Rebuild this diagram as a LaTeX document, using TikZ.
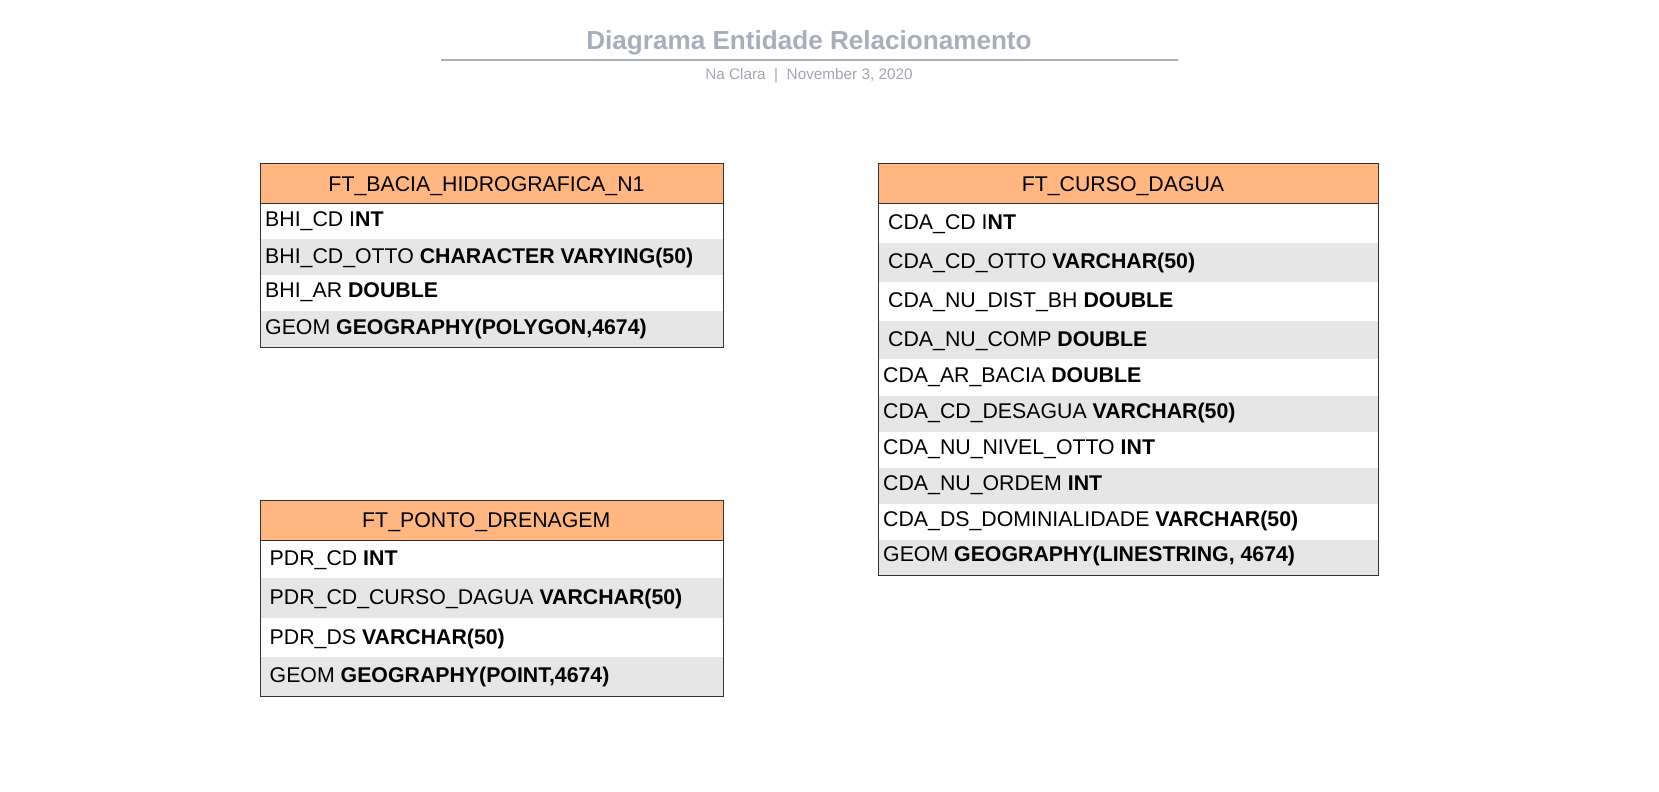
\documentclass[tikz,border=0pt]{standalone}
\usepackage{fontspec}
\setmainfont{Liberation Sans}
\definecolor{hdr}{HTML}{FFB680}
\definecolor{rowgray}{HTML}{E6E6E6}
\definecolor{titlegray}{HTML}{A9AEB8}
\definecolor{dategray}{HTML}{A3A7AF}
\definecolor{bordercol}{HTML}{333333}
\begin{document}
\begin{tikzpicture}[x=1pt,y=-1pt,
  field/.style={anchor=base west,inner sep=0pt,font=\fontsize{21.3}{25}\selectfont,text=black},
  tabhead/.style={anchor=base,inner sep=0pt,font=\fontsize{21.3}{25}\selectfont,text=black},
  tabframe/.style={draw=bordercol,line width=1pt},
  grayrow/.style={fill=rowgray},
  headfill/.style={fill=hdr}]
\useasboundingbox[fill=white] (0,0) rectangle (1659,792);

% title block
\node[anchor=base,inner sep=0pt,text=titlegray,font=\bfseries\fontsize{26.1}{30}\selectfont] (title) at (809,49.3) {Diagrama Entidade Relacionamento};
\coordinate (ruleL) at (441,60);
\coordinate (ruleR) at (1178,60);
\draw[titlegray,line width=2pt] (ruleL) -- (ruleR);
\node[anchor=base,inner sep=0pt,text=dategray,font=\fontsize{15.3}{18}\selectfont] (date) at (809,80) {Na Clara~~|~~November 3, 2020};

% ---------- Table 1 ----------
\fill[headfill] (260.7,163.3) rectangle (723.3,203.3);
\fill[grayrow] (260.7,239.3) rectangle (723.3,275.3);
\fill[grayrow] (260.7,311.3) rectangle (723.3,347.3);
\draw[tabframe] (260.7,163.3) rectangle (723.3,347.3);
\draw[tabframe] (260.7,203.3) -- (723.3,203.3);
\node[tabhead] (t1h) at (486.5,191) {FT\_BACIA\_HIDROGRAFICA\_N1};
\node[field] (t1r1) at (265,226) {BHI\_CD I\textbf{NT}};
\node[field] (t1r2) at (265,263.3) {BHI\_CD\_OTTO \textbf{CHARACTER VARYING(50)}};
\node[field] (t1r3) at (265,297.7) {BHI\_AR \textbf{DOUBLE}};
\node[field] (t1r4) at (265,334.3) {GEOM \textbf{GEOGRAPHY(POLYGON,4674)}};

% ---------- Table 2 ----------
\fill[headfill] (878.3,163.3) rectangle (1378.3,203.3);
\fill[grayrow] (878.3,242.7) rectangle (1378.3,281.7);
\fill[grayrow] (878.3,320.7) rectangle (1378.3,359.3);
\fill[grayrow] (878.3,395.7) rectangle (1378.3,431.7);
\fill[grayrow] (878.3,467.7) rectangle (1378.3,503.7);
\fill[grayrow] (878.3,540) rectangle (1378.3,575);
\draw[tabframe] (878.3,163.3) rectangle (1378.3,575);
\draw[tabframe] (878.3,203.3) -- (1378.3,203.3);
\node[tabhead] (t2h) at (1123,191) {FT\_CURSO\_DAGUA};
\node[field] (t2r1) at (888,229) {CDA\_CD I\textbf{NT}};
\node[field] (t2r2) at (888,268.2) {CDA\_CD\_OTTO \textbf{VARCHAR(50)}};
\node[field] (t2r3) at (888,307.2) {CDA\_NU\_DIST\_BH \textbf{DOUBLE}};
\node[field] (t2r4) at (888,346) {CDA\_NU\_COMP \textbf{DOUBLE}};
\node[field] (t2r5) at (883,382) {CDA\_AR\_BACIA \textbf{DOUBLE}};
\node[field] (t2r6) at (883,418.2) {CDA\_CD\_DESAGUA \textbf{VARCHAR(50)}};
\node[field] (t2r7) at (883,454.2) {CDA\_NU\_NIVEL\_OTTO \textbf{INT}};
\node[field] (t2r8) at (883,490.2) {CDA\_NU\_ORDEM \textbf{INT}};
\node[field] (t2r9) at (883,526.4) {CDA\_DS\_DOMINIALIDADE \textbf{VARCHAR(50)}};
\node[field] (t2r10) at (883,561.7) {GEOM \textbf{GEOGRAPHY(LINESTRING, 4674)}};

% ---------- Table 3 ----------
\fill[headfill] (260.7,500.7) rectangle (723.3,540);
\fill[grayrow] (260.7,578.3) rectangle (723.3,617.7);
\fill[grayrow] (260.7,656.7) rectangle (723.3,696);
\draw[tabframe] (260.7,500.7) rectangle (723.3,696);
\draw[tabframe] (260.7,540) -- (723.3,540);
\node[tabhead] (t3h) at (486.3,527.3) {FT\_PONTO\_DRENAGEM};
\node[field] (t3r1) at (269.5,565.7) {PDR\_CD \textbf{INT}};
\node[field] (t3r2) at (269.5,604.3) {PDR\_CD\_CURSO\_DAGUA \textbf{VARCHAR(50)}};
\node[field] (t3r3) at (269.5,644) {PDR\_DS \textbf{VARCHAR(50)}};
\node[field] (t3r4) at (269.5,682.3) {GEOM \textbf{GEOGRAPHY(POINT,4674)}};
\end{tikzpicture}
\end{document}
